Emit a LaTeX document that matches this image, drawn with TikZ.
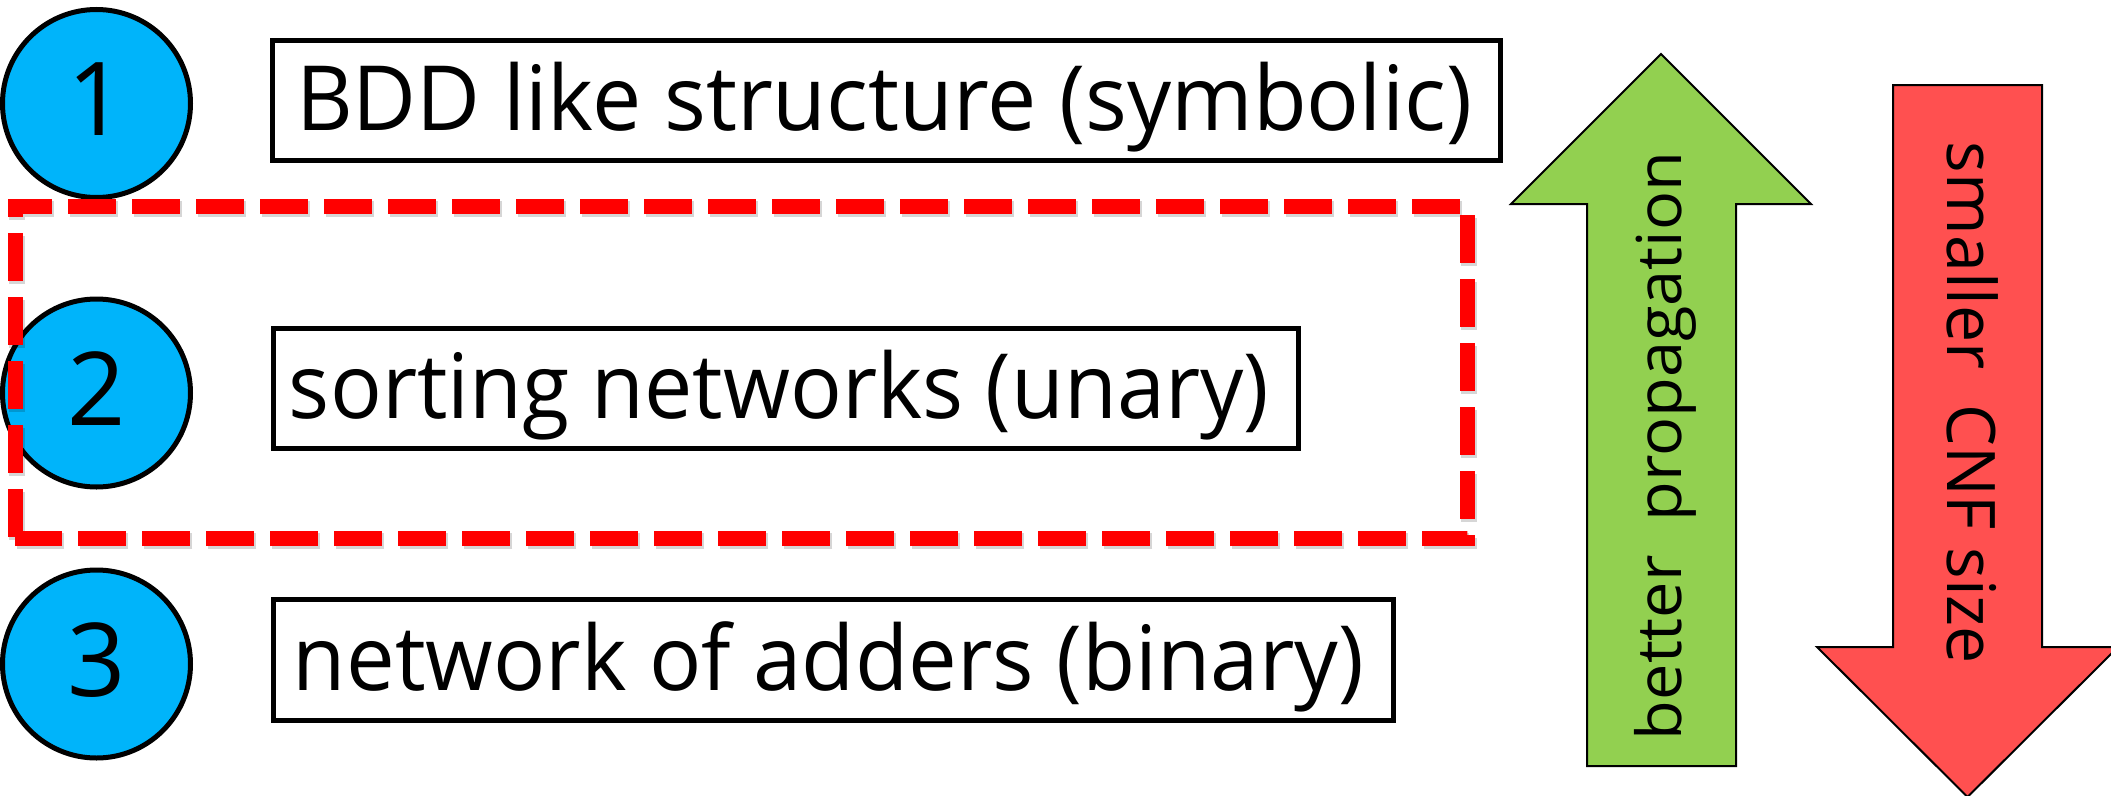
\documentclass[tikz,border=0pt]{standalone}
\usepackage{fontspec}
\setmainfont{Open Sans}
\definecolor{discblue}{RGB}{0,180,250}
\definecolor{upgreen}{HTML}{92D050}
\definecolor{downred}{HTML}{FF5050}
\definecolor{framered}{HTML}{FF0000}
% scale a text horizontally only, to a given width
\newcommand{\fitw}[2]{\resizebox{#1}{\height}{#2}}

\begin{document}
\begin{tikzpicture}[x=1pt,y=-1pt,
  disc/.style={circle, draw=black, line width=5pt, fill=discblue,
    inner sep=0pt, minimum size=188pt, text depth=8pt,
    font=\fontsize{102}{102}\selectfont},
  itembox/.style={rectangle, draw=black, line width=5pt, fill=white,
    inner sep=0pt, text height=64pt, text depth=4pt,
    font=\fontsize{90}{90}\selectfont},
  arrowbody/.style={draw=black, line width=2pt, line join=miter},
  frame/.style={draw=framered, line width=15pt, line join=miter,
    dash pattern=on 48pt off 16pt, dash phase=63pt},
]
\useasboundingbox (0,0) rectangle (2111,795);

% numbered discs
\node[disc] (n1) at (96.5,103.5) {1};
\node[disc] (n2) at (96.5,393) {2};
\node[disc] (n3) at (96.5,664) {3};

% encodings
\node[itembox, minimum width=1228pt, minimum height=120pt] (e1) at (886.5,100.5)
  {\fitw{1176pt}{BDD like structure (symbolic)}\hspace*{5pt}};
\node[itembox, minimum width=1025pt, minimum height=120pt] (e2) at (785.5,388)
  {\fitw{980pt}{sorting networks (unary)}\hspace*{13pt}};
\node[itembox, minimum width=1120pt, minimum height=121pt] (e3) at (833,660)
  {\fitw{1071pt}{network of adders (binary)}\hspace*{9pt}};

% dashed frame round the second encoding, with a soft shadow
\draw[frame, draw=black, opacity=0.16, line width=16pt, xshift=2pt, yshift=-3pt]
  (15,538) -- (15,206) -- (1467,206) -- (1467,538) -- cycle;
\draw[frame] (15,538) -- (15,206) -- (1467,206) -- (1467,538) -- cycle;

% up arrow
\fill[upgreen, arrowbody] (1587,766) -- (1587,204) -- (1511,204) -- (1661,54)
  -- (1811,204) -- (1736,204) -- (1736,766) -- cycle;
\node[rotate=90, inner sep=0pt, text height=47pt, text depth=7pt,
  font=\fontsize{62}{62}\selectfont] (up) at (1661,446)
  {\fitw{588pt}{better~ propagation}};

% down arrow
\fill[downred, arrowbody] (1893,85) -- (2042,85) -- (2042,647) -- (2118,647)
  -- (1967.5,797) -- (1817,647) -- (1893,647) -- cycle;
\node[rotate=-90, inner sep=0pt, text height=50pt, text depth=9pt,
  font=\fontsize{67}{67}\selectfont] (down) at (1967.5,403)
  {\fitw{522pt}{smaller~ CNF size}};
\end{tikzpicture}
\end{document}
